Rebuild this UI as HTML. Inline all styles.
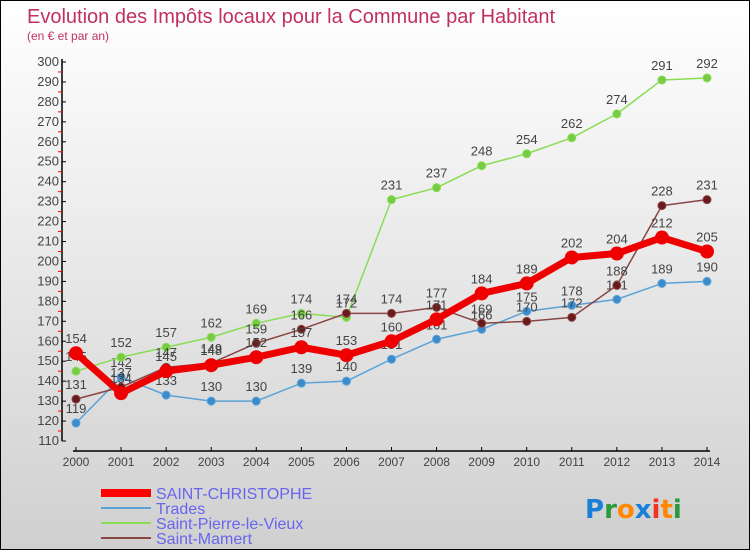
<!DOCTYPE html>
<html><head><meta charset="utf-8">
<style>
body{margin:0;}
#wrap{width:748px;height:548px;border:1px solid #000;background:linear-gradient(#fff,#d0d0d0);position:relative;overflow:hidden;font-family:"Liberation Sans","DejaVu Sans",sans-serif;}
</style></head>
<body>
<div id="wrap">
<svg id="chart" width="748" height="548">
<text x="26" y="22" font-size="20" fill="#c03060">Evolution des Impôts locaux pour la Commune par Habitant</text>
<text x="26" y="39" font-size="12" fill="#c03060">(en € et par an)</text>
<g id="axes"></g>
<g id="series"></g>
<g id="legend">
<line x1="100" y1="492" x2="150" y2="492" stroke="#f00" stroke-width="8"/>
<text x="155" y="498" font-size="16" fill="#6666ee">SAINT-CHRISTOPHE</text>
<line x1="100" y1="507" x2="150" y2="507" stroke="#5ba3d6" stroke-width="2"/>
<text x="155" y="513" font-size="16" fill="#6666ee">Trades</text>
<line x1="100" y1="522" x2="150" y2="522" stroke="#88dd55" stroke-width="2"/>
<text x="155" y="528" font-size="16" fill="#6666ee">Saint-Pierre-le-Vieux</text>
<line x1="100" y1="537" x2="150" y2="537" stroke="#8a4545" stroke-width="2"/>
<text x="155" y="543" font-size="16" fill="#6666ee">Saint-Mamert</text>
</g>
<g font-size="26" font-family="'DejaVu Sans',sans-serif" font-weight="bold">
<text x="584" y="517"><tspan fill="#1a7fd6">P</tspan><tspan fill="#2a9a3a">r</tspan><tspan fill="#ff8800">o</tspan><tspan fill="#1a7fd6">x</tspan><tspan fill="#ee3322">i</tspan><tspan fill="#ff8800">t</tspan><tspan fill="#2a9a3a">i</tspan></text>
</g>
</svg>
</div>
<script>
const years=[2000,2001,2002,2003,2004,2005,2006,2007,2008,2009,2010,2011,2012,2013,2014];
const stChristophe=[154,134,145,148,152,157,153,160,171,184,189,202,204,212,205];
const trades=[119,142,133,130,130,139,140,151,161,166,175,178,181,189,190];
const stPierre=[145,152,157,162,169,174,172,231,237,248,254,262,274,291,292];
const stMamert=[131,137,147,149,159,166,174,174,177,169,170,172,188,228,231];
const yTicks=[110,120,130,140,150,160,170,180,190,200,210,220,230,240,250,260,270,280,290,300];
const NS="http://www.w3.org/2000/svg";
const X=i=>75+i*(631/(years.length-1));
const Y=v=>440-(v-110)*(379/190);
function mk(t,a,p){const e=document.createElementNS(NS,t);for(const k in a)e.setAttribute(k,a[k]);p.appendChild(e);return e;}
const ax=document.getElementById('axes');
let l=mk('line',{x1:61,y1:Y(300)-3,x2:61,y2:Y(110),stroke:'#000','stroke-width':1.5},ax);


l=mk('line',{x1:X(0)-3,y1:450,x2:X(years.length-1)+3,y2:450,stroke:'#000','stroke-width':1.5},ax);


yTicks.forEach((v,i)=>{
 mk('line',{x1:61,y1:Y(v),x2:65,y2:Y(v),stroke:'#000'},ax);
 if(i<yTicks.length-1) mk('line',{x1:57,y1:Y(v+5),x2:61,y2:Y(v+5),stroke:'#f00'},ax);
 const t=mk('text',{x:58,y:Y(v)+4,'text-anchor':'end','font-size':13,fill:'#444'},ax);
 t.textContent=v;
 
 
});
years.forEach((y,i)=>{
 mk('line',{x1:X(i),y1:446,x2:X(i),y2:450,stroke:'#000'},ax);
 const t=mk('text',{x:X(i),y:465,'text-anchor':'middle','font-size':12,fill:'#444'},ax);
 t.textContent=y;
 
 
});
const sg=document.getElementById('series');
function series(data,name,color,lw,r,pc){
 const g=mk('g',{},sg);
 
 
 const pl=mk('polyline',{points:data.map((v,i)=>X(i)+','+Y(v)).join(' '),fill:'none',stroke:color,'stroke-width':lw,'stroke-linejoin':'round'},g);
 
 
 data.forEach((v,i)=>{
  const c=mk('circle',{cx:X(i),cy:Y(v),r:r,fill:pc,stroke:color==pc?'none':color,'stroke-width':1},g);
  
  
  const t=mk('text',{x:X(i),y:Y(v)-10,'text-anchor':'middle','font-size':13,fill:'#444'},g);
  t.textContent=v;
  
  
 });
}
series(trades,'trades','#5ba3d6',1.5,4,'#3a8ccc');
series(stPierre,'saint-pierre-le-vieux','#88dd55',1.5,4,'#77cc44');
series(stMamert,'saint-mamert','#8a4545',1.5,4,'#6a1a1a');
series(stChristophe,'saint-christophe','#ee0000',7,7,'#ee0000');
</script>
</body></html>
